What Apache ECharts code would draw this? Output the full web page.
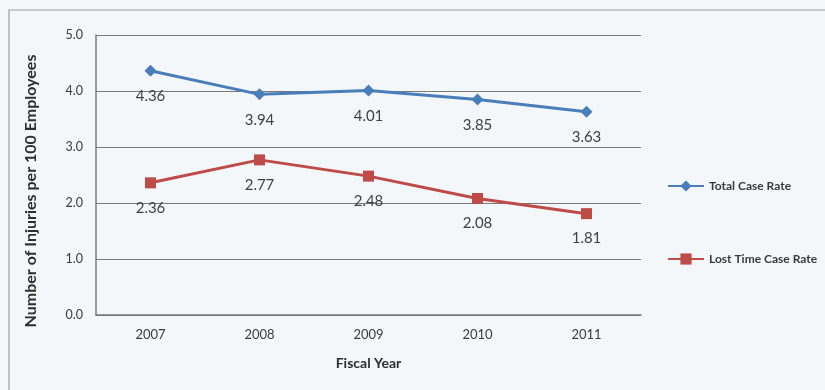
<!DOCTYPE html>
<html>
<head>
<meta charset="utf-8">
<script src="https://cdn.jsdelivr.net/npm/echarts@6/dist/echarts.min.js"></script>
<style>
  html, body { margin: 0; padding: 0; background: #f4f7fa; }
  #chart { width: 825px; height: 390px; }
</style>
</head>
<body>
<div id="chart"></div>
<script>
// Injury rates by fiscal year
const years = ['2007', '2008', '2009', '2010', '2011'];
const totalCaseRate = [4.36, 3.94, 4.01, 3.85, 3.63];
const lostTimeCaseRate = [2.36, 2.77, 2.48, 2.08, 1.81];
const yTicks = [0, 1, 2, 3, 4, 5];
const yTitle = 'Number of Injuries per 100 Employees';

const FONT = 'Lato';
const chart = echarts.init(document.getElementById('chart'));

chart.setOption({
  backgroundColor: '#f4f7fa',
  animation: false,
  textStyle: { fontFamily: FONT },
  graphic: [
    {
      type: 'rect',
      shape: { x: 9, y: 10, width: 830, height: 400 },
      style: { fill: 'none', stroke: '#9a9ea3', lineWidth: 1.2 },
      silent: true
    },
    {
      type: 'text',
      x: 31, y: 191,
      rotation: Math.PI / 2,
      style: {
        text: yTitle,
        fontFamily: FONT, fontSize: 16, fontWeight: 'bold', fill: '#2e2e2e',
        align: 'center', verticalAlign: 'middle'
      },
      silent: true
    }
  ],
  grid: { left: 96, right: 184, top: 35, bottom: 75 },
  legend: {
    orient: 'vertical',
    left: 662,
    top: 175,
    itemWidth: 36,
    itemHeight: 14,
    itemGap: 61,
    textStyle: { fontFamily: FONT, fontSize: 12, fontWeight: 'bold', color: '#3a3a3a' },
    data: ['Total Case Rate', 'Lost Time Case Rate']
  },
  xAxis: {
    type: 'category',
    data: years,
    boundaryGap: true,
    name: 'Fiscal Year',
    nameLocation: 'middle',
    nameGap: 41,
    nameTextStyle: { fontFamily: FONT, fontSize: 14, fontWeight: 'bold', color: '#2e2e2e' },
    axisLine: { show: true, lineStyle: { color: '#7a7a7a', width: 1.5 } },
    axisTick: { show: false },
    axisLabel: { fontFamily: FONT, fontSize: 13, color: '#3a3a3a', margin: 13 }
  },
  yAxis: {
    type: 'value',
    min: yTicks[0],
    max: yTicks[yTicks.length - 1],
    interval: 1,
    axisLine: { show: true, lineStyle: { color: '#7a7a7a', width: 1.5 } },
    axisTick: { show: false },
    axisLabel: {
      fontFamily: FONT, fontSize: 12.5, color: '#3a3a3a', margin: 13,
      formatter: v => v.toFixed(1)
    },
    splitLine: { show: true, lineStyle: { color: '#7a7a7a', width: 1.2 } }
  },
  series: [
    {
      name: 'Total Case Rate',
      type: 'line',
      data: totalCaseRate,
      symbol: 'diamond',
      symbolSize: 12,
      itemStyle: { color: '#4a7ebb' },
      lineStyle: { color: '#4a7ebb', width: 3 },
      label: {
        show: true, position: 'bottom', distance: 12,
        fontFamily: FONT, fontSize: 15, color: '#404040',
        formatter: p => p.value.toFixed(2)
      }
    },
    {
      name: 'Lost Time Case Rate',
      type: 'line',
      data: lostTimeCaseRate,
      symbol: 'rect',
      symbolSize: 11,
      itemStyle: { color: '#be4b48' },
      lineStyle: { color: '#be4b48', width: 3 },
      label: {
        show: true, position: 'bottom', distance: 12,
        fontFamily: FONT, fontSize: 15, color: '#404040',
        formatter: p => p.value.toFixed(2)
      }
    }
  ]
});
</script>
</body>
</html>
